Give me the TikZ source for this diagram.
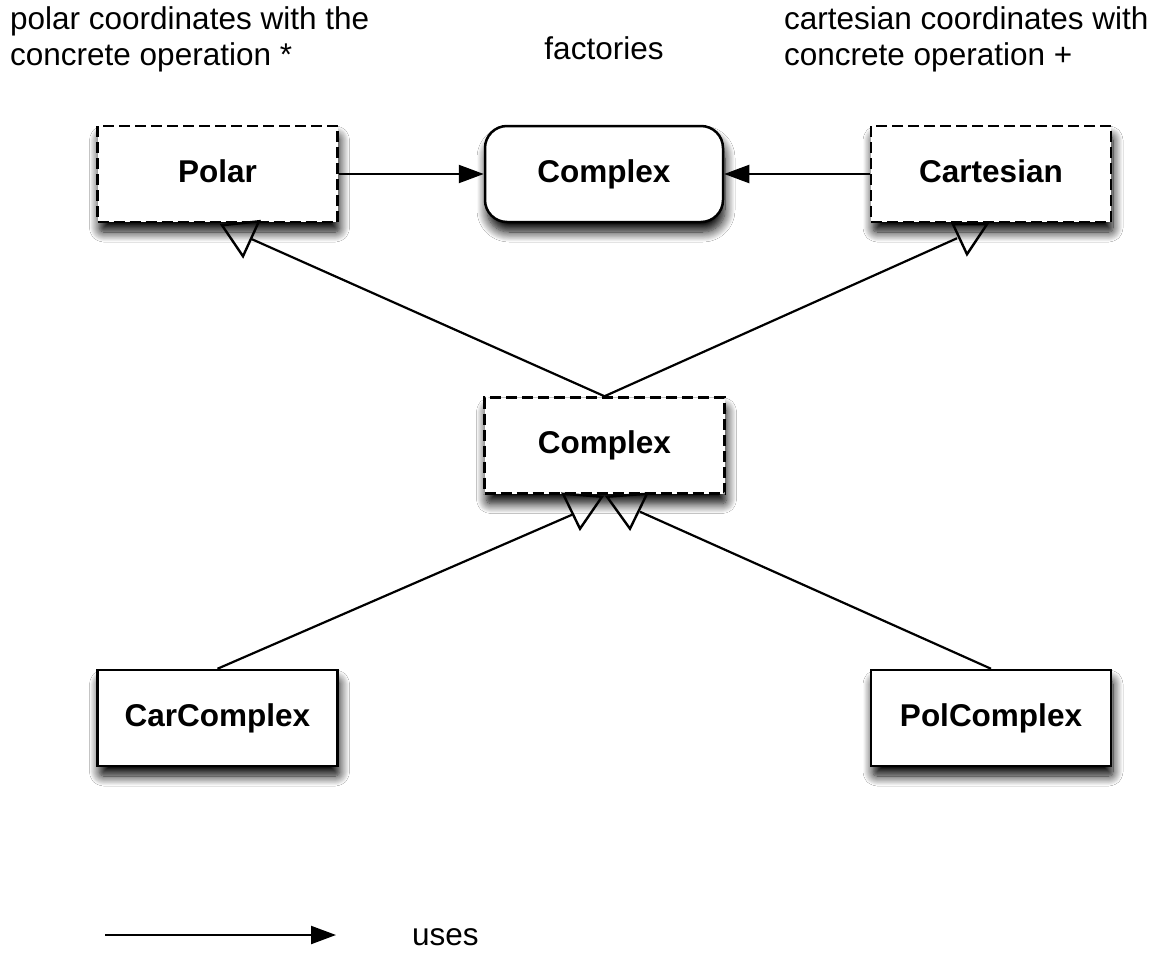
\documentclass[tikz,border=0pt]{standalone}
\usepackage{fontspec}
\setmainfont{Liberation Sans}
\usetikzlibrary{arrows.meta,shadows.blur,calc}
\tikzset{
  lbl/.style={font=\fontsize{31.5}{36}\selectfont},
  box/.style={draw=black, line width=2.5pt, fill=white, minimum width=240pt, minimum height=96pt,
     inner sep=0pt, text height=22.5pt, text depth=6.5pt, font=\fontsize{31.5}{36}\selectfont\bfseries,
     blur shadow={shadow xshift=2pt, shadow yshift=-10pt, shadow blur radius=10pt, shadow blur steps=12, shadow opacity=100, shadow blur extra rounding=4pt}},
  dbox/.style={box, dash pattern=on 11pt off 5pt},
  rbox/.style={box, rounded corners=22pt},
  conn/.style={draw=black, line width=2.2pt},
  uses/.style={conn, -{Triangle[length=25pt,width=18pt]}},
  tri/.style={draw=black, line width=2.4pt, line join=miter}
}
\begin{document}
\begin{tikzpicture}[x=1pt,y=-1pt]
\useasboundingbox (0,0) rectangle (1171,953);
\fill[white] (0,0) rectangle (1171,953);

\node[lbl, anchor=north west, align=left, inner sep=0pt] (tl) at (10,6) {polar coordinates with the\\concrete operation *};
\node[lbl, inner sep=0pt] (tf) at (604,48) {factories};
\node[lbl, anchor=north west, align=left, inner sep=0pt] (tr) at (784,6) {cartesian coordinates with\\concrete operation +};

\node[dbox] (polar) at (217.5,174) {Polar};
\node[rbox, minimum width=238pt] (cplx) at (604,174) {Complex};
\node[dbox] (cart) at (991,174) {Cartesian};
\node[dbox] (mid) at (604.5,445.5) {Complex};
\node[box] (car) at (217.5,718) {CarComplex};
\node[box] (pol) at (991,718) {PolComplex};

\draw[uses] (polar.east) -- (cplx.west);
\draw[uses] (cart.west) -- (cplx.east);

% inheritance: Complex -> Polar
\coordinate (ap) at ($(polar.south)+(34.5,16)$);
\draw[conn] (mid.north) -- (ap);
\draw[tri] ($(polar.south)+(4.5,2)$) -- ($(polar.south)+(41.5,-2)$) -- ($(polar.south)+(25.5,33)$) -- cycle;

% inheritance: Complex -> Cartesian
\coordinate (ac) at ($(cart.south)+(-34,15)$);
\draw[conn] (mid.north) -- (ac);
\draw[tri] ($(cart.south)+(-38,1)$) -- ($(cart.south)+(-4,1)$) -- ($(cart.south)+(-24,31)$) -- cycle;

% inheritance: CarComplex -> Complex
\coordinate (al) at ($(mid.south)+(-32.5,20)$);
\draw[conn] (car.north) -- (al);
\draw[tri] ($(mid.south)+(-41.5,-1)$) -- ($(mid.south)+(-2.5,2)$) -- ($(mid.south)+(-24.5,34)$) -- cycle;

% inheritance: PolComplex -> Complex
\coordinate (ar) at ($(mid.south)+(35.5,17)$);
\draw[conn] (pol.north) -- (ar);
\draw[tri] ($(mid.south)+(2.5,2)$) -- ($(mid.south)+(42.5,-1)$) -- ($(mid.south)+(25.5,34)$) -- cycle;

% legend
\coordinate (ls) at (105,935);
\coordinate (le) at (336,935);
\draw[uses] (ls) -- (le);
\node[lbl, anchor=west, inner sep=0pt] (luses) at (412,937) {uses};
\end{tikzpicture}
\end{document}
